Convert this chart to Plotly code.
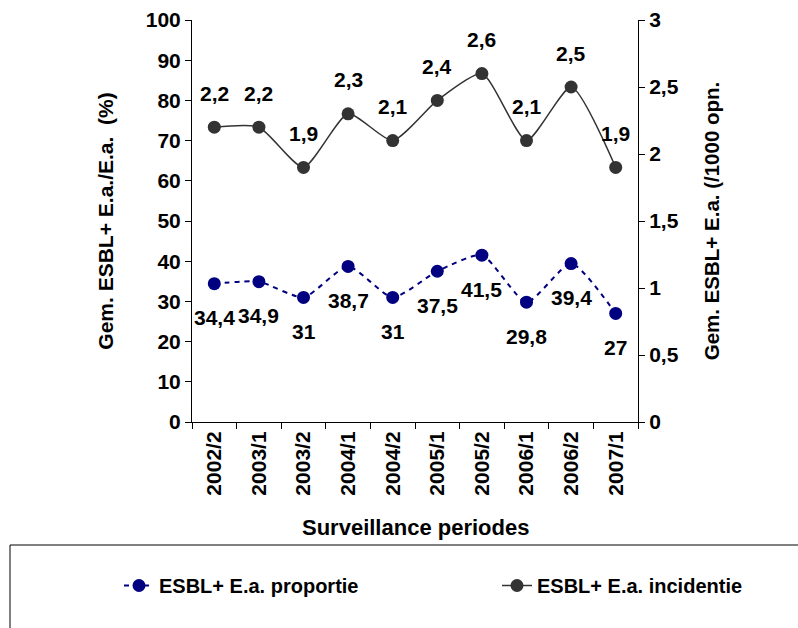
import plotly.graph_objects as go

periods = ["2002/2", "2003/1", "2003/2", "2004/1", "2004/2", "2005/1", "2005/2", "2006/1", "2006/2", "2007/1"]
proportie = [34.4, 34.9, 31, 38.7, 31, 37.5, 41.5, 29.8, 39.4, 27]
incidentie = [2.2, 2.2, 1.9, 2.3, 2.1, 2.4, 2.6, 2.1, 2.5, 1.9]
left_ticks = [0, 10, 20, 30, 40, 50, 60, 70, 80, 90, 100]
right_ticks = [0, 0.5, 1, 1.5, 2, 2.5, 3]

FONT = "Liberation Sans, Arial, sans-serif"
L, R, T, B = 192, 160, 20, 206
PW, PH = 798 - L - R, 628 - T - B

def fmt(v):
    return f"{v:g}".replace(".", ",")

def px_x(px):
    return (px - L) / PW

def px_y(py):
    return (628 - B - py) / PH

fig = go.Figure()
fig.add_trace(go.Scatter(
    x=periods, y=proportie, name="ESBL+ E.a. proportie",
    mode="lines+markers",
    line=dict(color="#000080", width=2, dash="5px,5px", shape="spline", smoothing=0.6),
    marker=dict(color="#000080", size=13),
    yaxis="y", legend="legend",
))
fig.add_trace(go.Scatter(
    x=periods, y=incidentie, name="ESBL+ E.a. incidentie",
    mode="lines+markers",
    line=dict(color="#333333", width=1.5, shape="spline", smoothing=0.6),
    marker=dict(color="#333333", size=13),
    yaxis="y2", legend="legend2",
))

annotations = []
for p, v in zip(periods, proportie):
    annotations.append(dict(x=p, y=v, xref="x", yref="y", text=fmt(v), showarrow=False,
                            yshift=-34, font=dict(family=FONT, size=21, color="black", weight=700)))
for p, v in zip(periods, incidentie):
    annotations.append(dict(x=p, y=v, xref="x", yref="y2", text=fmt(v), showarrow=False,
                            yshift=34, font=dict(family=FONT, size=21, color="black", weight=700)))
annotations.append(dict(x=0.5, y=px_y(527), xref="paper", yref="paper", yanchor="middle",
                        text="Surveillance periodes", showarrow=False,
                        font=dict(family=FONT, size=22, color="black", weight=700)))

# legend frame
shapes = [dict(type="rect", xref="paper", yref="paper",
               x0=px_x(10), x1=px_x(812), y0=px_y(545), y1=px_y(640),
               line=dict(color="black", width=1), fillcolor="rgba(0,0,0,0)")]

legend_font = dict(family=FONT, size=20, color="black", weight=700)

fig.update_layout(
    width=798, height=628,
    margin=dict(l=L, r=R, t=T, b=B, pad=0, autoexpand=False),
    paper_bgcolor="white", plot_bgcolor="white",
    font=dict(family=FONT, color="black"),
    showlegend=True,
    legend=dict(x=px_x(119), y=px_y(566), xanchor="left", yanchor="top",
                bgcolor="rgba(0,0,0,0)", font=legend_font),
    legend2=dict(x=px_x(497), y=px_y(566), xanchor="left", yanchor="top",
                 bgcolor="rgba(0,0,0,0)", font=legend_font),
    xaxis=dict(
        type="category", range=[-0.5, 9.5], automargin=False,
        showline=True, linecolor="black", linewidth=1,
        ticks="outside", ticklen=6, tickcolor="black", tickson="boundaries",
        tickangle=-90, showgrid=False, zeroline=False,
        tickfont=dict(family=FONT, size=21, color="black", weight=700),
    ),
    yaxis=dict(
        range=[0, 100], tickvals=left_ticks, ticktext=[fmt(t) for t in left_ticks],
        automargin=False,
        showline=True, linecolor="black", linewidth=1,
        ticks="outside", ticklen=6, tickcolor="black",
        showgrid=False, zeroline=False,
        tickfont=dict(family=FONT, size=21, color="black", weight=700),
        title=dict(text="Gem. ESBL+ E.a./E.a.  (%)", standoff=26,
                   font=dict(family=FONT, size=21, color="black", weight=700)),
    ),
    yaxis2=dict(
        range=[0, 3], tickvals=right_ticks, ticktext=[fmt(t) for t in right_ticks],
        overlaying="y", side="right", automargin=False,
        showline=True, linecolor="black", linewidth=1,
        ticks="outside", ticklen=6, tickcolor="black",
        showgrid=False, zeroline=False,
        tickfont=dict(family=FONT, size=21, color="black", weight=700),
        title=dict(text="Gem. ESBL+ E.a. (/1000 opn.", standoff=26,
                   font=dict(family=FONT, size=20.5, color="black", weight=700)),
    ),
    yaxis3=dict(
        range=[0, 3], tickvals=right_ticks, overlaying="y", side="right",
        anchor="free", position=1, automargin=False,
        showline=False, showticklabels=False,
        ticks="inside", ticklen=6, tickcolor="black",
        showgrid=False, zeroline=False,
    ),
    annotations=annotations,
    shapes=shapes,
)

fig.write_html("out.html")
